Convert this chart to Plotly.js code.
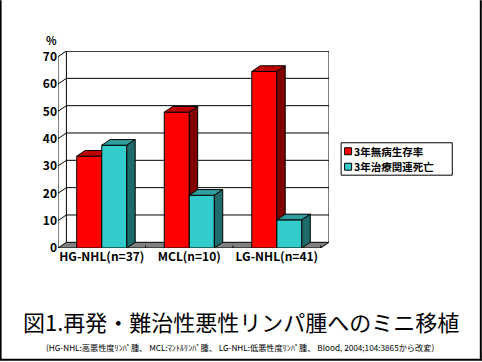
<!DOCTYPE html>
<html><head><meta charset="utf-8">
<script src="https://cdn.plot.ly/plotly-3.0.1.min.js"></script>
<style>body{margin:0;background:#fff}#chart{width:482px;height:362px}</style>
</head><body><div id="chart"></div>
<script>
// ---- data ----
const categories = ['HG-NHL(n=37)', 'MCL(n=10)', 'LG-NHL(n=41)'];
const seriesNames = ['3年無病生存率', '3年治療関連死亡'];
const diseaseFreeSurvival = [33.6, 49.7, 64.6];
const treatmentRelatedMortality = [37.6, 19.3, 10.3];
const yTicks = [0, 10, 20, 30, 40, 50, 60, 70];
const yUnit = '%';
const titleText = '図1.再発・難治性悪性リンパ腫へのミニ移植';
const captionText = '(HG-NHL:高悪性度ﾘﾝﾊﾟ腫、 MCL:ﾏﾝﾄﾙﾘﾝﾊﾟ腫、 LG-NHL:低悪性度ﾘﾝﾊﾟ腫、 Blood, 2004;104:3865から改変)';

// ---- styling / geometry ----
const FONT = 'Noto Sans CJK JP, Liberation Sans, sans-serif';
const DX = 0.096, DY = 2.08, W = 0.286;
const redCols = ['#FF0000', '#C00000', '#800000'];
const cyanCols = ['#33CCCC', '#2E9E9E', '#1E6B6B'];
const n = categories.length;
const yMax = yTicks[yTicks.length - 1];

const M = {l: 58.3, r: 153.1, t: 51, b: 113.5};
const PW = 482 - M.l - M.r, PH = 362 - M.t - M.b;
const px = v => (v - M.l) / PW;
const py = v => (362 - M.b - v) / PH;

const traces = [];
function poly(xs, ys, fill) {
  traces.push({type: 'scatter', mode: 'lines', x: [...xs, xs[0]], y: [...ys, ys[0]],
    fill: 'toself', fillcolor: fill, line: {color: '#000', width: 1},
    hoverinfo: 'skip', showlegend: false});
}
function line(xs, ys) {
  traces.push({type: 'scatter', mode: 'lines', x: xs, y: ys,
    line: {color: '#000', width: 1}, hoverinfo: 'skip', showlegend: false});
}
// floor
poly([0, n, n + DX, DX], [0, 0, DY, DY], '#808080');
// back wall outline
line([DX, DX, n + DX, n + DX], [DY, yMax + DY, yMax + DY, DY]);
// gridlines (diagonal tick + back wall line)
yTicks.slice(1).forEach(v => line([0, DX, n + DX], [v, v + DY, v + DY]));
// front value axis
line([0, 0], [0, yMax]);
// category separator ticks on the floor front edge
for (let k = 1; k <= n; k++) line([k, k], [0, 0.9]);

function bar3d(x0, v, cols) {
  const x1 = x0 + W;
  poly([x0, x1, x1, x0], [0, 0, v, v], cols[0]);
  poly([x0, x1, x1 + DX, x0 + DX], [v, v, v + DY, v + DY], cols[1]);
  poly([x1, x1 + DX, x1 + DX, x1], [0, DY, v + DY, v], cols[2]);
}
categories.forEach((c, i) => {
  const cx = i + 0.5;
  bar3d(cx - W, diseaseFreeSurvival[i], redCols);
  bar3d(cx, treatmentRelatedMortality[i], cyanCols);
});

const boldFont = {family: FONT, size: 12, color: '#000', weight: 'bold'};
const legFont = {family: FONT, size: 10.5, color: '#000', weight: 'bold'};
const layout = {
  width: 482, height: 362, margin: M,
  paper_bgcolor: '#fff', plot_bgcolor: 'rgba(0,0,0,0)',
  showlegend: false,
  xaxis: {range: [0, n + DX], tickvals: categories.map((c, i) => i + 0.5), ticktext: categories,
    showgrid: false, zeroline: false, showline: false, ticks: '', tickfont: boldFont,
    fixedrange: true},
  yaxis: {range: [0, yMax + DY], tickvals: yTicks, showgrid: false, zeroline: false,
    showline: false, ticks: '', tickfont: boldFont, fixedrange: true},
  shapes: [
    {type: 'line', xref: 'paper', yref: 'paper', x0: px(1), x1: px(1), y0: py(0), y1: py(361), line: {color: '#000', width: 2}},
    {type: 'line', xref: 'paper', yref: 'paper', x0: px(480.5), x1: px(480.5), y0: py(0), y1: py(361), line: {color: '#000', width: 2}},
    {type: 'line', xref: 'paper', yref: 'paper', x0: px(0), x1: px(482), y0: py(360.5), y1: py(360.5), line: {color: '#000', width: 2}},
    {type: 'rect', xref: 'paper', yref: 'paper', x0: px(341), x1: px(452), y0: py(143), y1: py(175.5), line: {color: '#000', width: 1}, fillcolor: '#fff'},
    {type: 'rect', xref: 'paper', yref: 'paper', x0: px(344.5), x1: px(351.5), y0: py(148), y1: py(155), line: {color: '#000', width: 1}, fillcolor: redCols[0]},
    {type: 'rect', xref: 'paper', yref: 'paper', x0: px(344.5), x1: px(351.5), y0: py(163.5), y1: py(170.5), line: {color: '#000', width: 1}, fillcolor: cyanCols[0]}
  ],
  annotations: [
    {xref: 'paper', yref: 'paper', x: px(353), y: py(151.5), xanchor: 'left', yanchor: 'middle', borderpad: 0,
      text: seriesNames[0], showarrow: false, font: legFont},
    {xref: 'paper', yref: 'paper', x: px(353), y: py(167), xanchor: 'left', yanchor: 'middle', borderpad: 0,
      text: seriesNames[1], showarrow: false, font: legFont},
    {xref: 'paper', yref: 'paper', x: px(52), y: py(39.5), xanchor: 'center', yanchor: 'middle', text: yUnit, showarrow: false, font: {family: FONT, size: 11, color: '#000', weight: 'bold'}},
    {xref: 'paper', yref: 'paper', x: px(241), y: py(322), xanchor: 'center', yanchor: 'middle', text: titleText, showarrow: false, font: {family: FONT, size: 22, color: '#000'}},
    {xref: 'paper', yref: 'paper', x: px(240.5), y: py(348), xanchor: 'center', yanchor: 'middle', text: captionText, showarrow: false, font: {family: FONT, size: 8.2, color: '#000'}}
  ]
};
Plotly.newPlot('chart', traces, layout, {displayModeBar: false, staticPlot: true});
</script>
</body></html>
